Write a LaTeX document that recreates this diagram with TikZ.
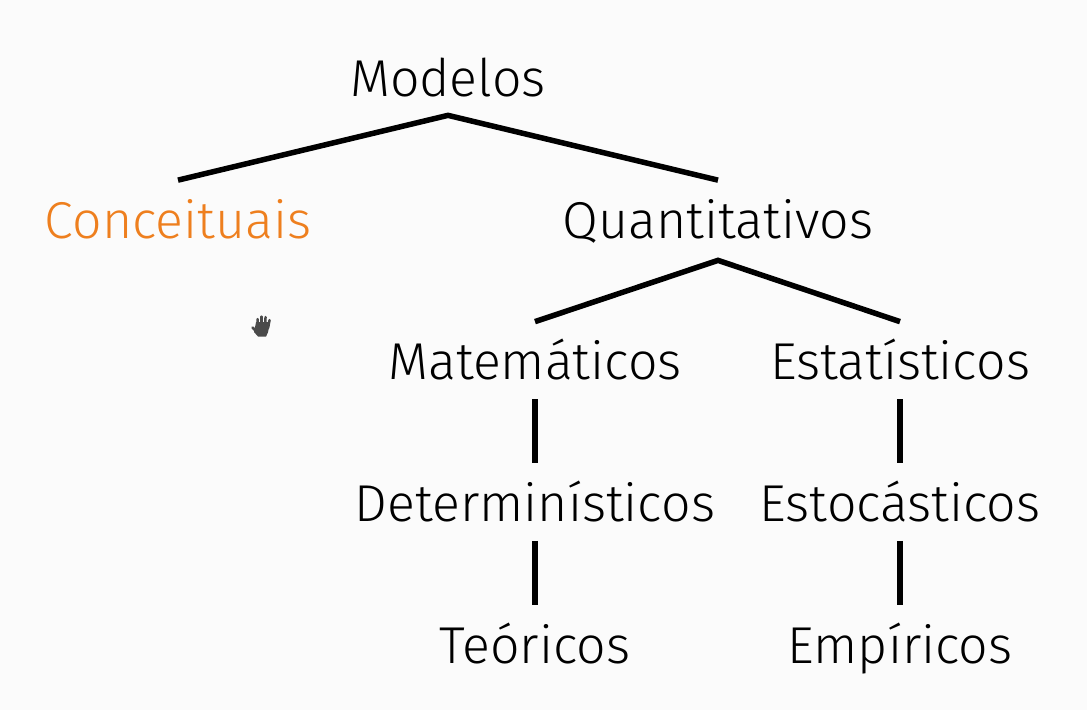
\documentclass[tikz,border=0pt]{standalone}
\usepackage{fontspec}
\setmainfont{Fira Sans Light}
\definecolor{bgpage}{HTML}{FBFBFB}
\definecolor{laranja}{HTML}{EE7F1E}
\definecolor{mao}{HTML}{4A4A4A}
\begin{document}
\begin{tikzpicture}[
		termo/.style={inner sep=0pt,text height=1.16cm,text depth=.38cm,font=\fontsize{29.5}{34}\selectfont},
		ligacao/.style={line width=.11cm,black},
		node distance=2.83cm
		]
		\fill[bgpage] (0,0) rectangle (21.74,14.2);
		\useasboundingbox (0,0) rectangle (21.74,14.2);
		
		\node[termo](M0) at (8.96,12.65){Modelos};
		\node[termo, text=laranja, below of = M0, xshift = -5.4cm](C1){Conceituais};
		\node[termo, below of = M0, xshift = 5.4cm](Q1){Quantitativos};
		
		\node[termo, below of = Q1, xshift = -3.66cm](M2){Matemáticos};
		\node[termo, below of = Q1, xshift = 3.64cm](E2){Estatísticos};
		\node[termo, below of = M2](D3){Determinísticos};
		\node[termo, below of = E2](S3){Estocásticos};
		\node[termo, below of = D3](T4){Teóricos};
		\node[termo, below of = S3](P4){Empíricos};
		
		\draw[ligacao] (C1.north) -- ([yshift=.02cm]M0.south) -- (Q1.north);
		\draw[ligacao] (M2.north) -- ([yshift=-.05cm]Q1.south) -- (E2.north);
		\draw[ligacao] (M2) -- (D3);
		\draw[ligacao] (D3) -- (T4);
		\draw[ligacao] (E2) -- (S3);
		\draw[ligacao] (S3) -- (P4);
		
		% cursor
		\begin{scope}[x=.02cm,y=-.02cm,yshift=14.2cm]
			\fill[mao] (256,322) -- (270,322) -- (268,332) -- (266,336.5) -- (258,336.5) -- (254,332) -- cycle;
			\draw[mao,line width=.05cm,line cap=round] (258,327) -- (257.5,319);
			\draw[mao,line width=.05cm,line cap=round] (261.5,327) -- (261.5,316.5);
			\draw[mao,line width=.05cm,line cap=round] (265,327) -- (265.5,317);
			\draw[mao,line width=.05cm,line cap=round] (268,328) -- (269.5,320);
			\draw[mao,line width=.05cm,line cap=round] (252.5,327.5) -- (257,332);
		\end{scope}
	\end{tikzpicture}
\end{document}
